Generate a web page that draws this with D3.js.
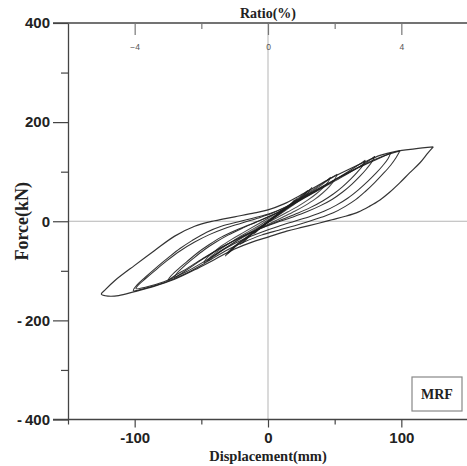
<!DOCTYPE html>
<html>
<head>
<meta charset="utf-8">
<script src="https://cdn.jsdelivr.net/npm/d3@7"></script>
<style>
  body { margin: 0; background: #fff; }
  .num { font-family: "Liberation Sans", Arial, sans-serif; font-weight: bold; font-size: 15px; fill: #222; }
  .ttl { font-family: "Liberation Serif", "Times New Roman", serif; font-weight: bold; fill: #222; }
</style>
</head>
<body>
<div class="canva"></div>
<script>
// hysteresis cycles, [displacement mm, force kN]
const cycle10a = [[12,26],[9,17],[3,5],[-4,-10],[-11,-26],[-7,-16],[0,-1],[7,14],[12,26]];
const cycle10b = [[10,23],[7,14],[1,1],[-6,-14],[-10,-24],[-5,-12],[2,3],[8,17],[10,23]];
const cycle20a = [[22,46],[19,37],[13,24],[5,8],[-4,-10],[-13,-28],[-21,-47],[-17,-36],[-9,-19],[0,-1],[9,18],[17,35],[22,46]];
const cycle20b = [[20,43],[17,34],[11,21],[3,5],[-6,-13],[-14,-31],[-19,-44],[-15,-33],[-7,-16],[2,2],[11,21],[17,34],[20,43]];
const cycle30a = [[33,68],[30,57],[25,45],[18,31],[10,16],[1,0],[-8,-17],[-17,-35],[-25,-52],[-32,-70],[-29,-59],[-23,-46],[-15,-30],[-6,-13],[3,5],[12,23],[21,41],[28,56],[33,68]];
const cycle30b = [[30,62],[27,52],[21,39],[14,25],[6,10],[-3,-7],[-12,-25],[-21,-43],[-30,-65],[-27,-55],[-20,-40],[-12,-24],[-3,-6],[6,12],[15,30],[23,47],[30,62]];
const cycle50a = [[52,95],[50,84],[46,70],[41,57],[35,44],[28,32],[20,20],[11,8],[1,-5],[-10,-19],[-21,-36],[-32,-54],[-41,-70],[-48,-84],
                  [-46,-75],[-41,-63],[-35,-50],[-27,-36],[-18,-22],[-9,-8],[0,6],[10,22],[20,39],[30,57],[40,75],[47,87],[52,95]];
const cycle50b = [[47,89],[45,79],[41,67],[36,55],[30,43],[23,31],[15,19],[6,6],[-4,-8],[-14,-23],[-24,-40],[-34,-58],[-41,-72],[-45,-80],
                  [-43,-72],[-38,-61],[-31,-48],[-23,-34],[-14,-20],[-5,-6],[4,9],[14,26],[24,44],[34,62],[42,77],[47,89]];
const cycle75a = [[80,131],[78,120],[74,106],[69,91],[63,75],[56,59],[48,44],[39,31],[29,19],[18,8],[6,-3],[-6,-15],[-19,-30],[-33,-50],[-47,-72],[-60,-94],[-70,-110],[-75,-119],
                  [-73,-111],[-68,-98],[-61,-82],[-53,-64],[-44,-47],[-35,-32],[-25,-19],[-14,-7],[-3,5],[8,18],[19,34],[30,51],[42,69],[54,87],[66,106],[75,121],[80,131]];
const cycle75b = [[73,123],[71,112],[67,99],[62,85],[56,70],[49,55],[41,41],[32,28],[22,16],[11,4],[0,-8],[-12,-22],[-25,-39],[-38,-58],[-51,-80],[-62,-100],[-70,-113],
                  [-68,-104],[-63,-91],[-56,-75],[-48,-58],[-39,-42],[-30,-28],[-20,-15],[-9,-2],[2,11],[13,26],[24,43],[36,61],[48,80],[60,100],[68,114],[73,123]];
const cycle100a = [[99,142],[96,128],[92,113],[86,95],[80,78],[73,60],[66,44],[58,30],[49,17],[40,8],[31,0],[20,-9],[8,-18],[-5,-28],[-18,-42],[-32,-60],[-47,-84],[-62,-106],[-78,-124],[-92,-135],[-101,-140],
                   [-98,-128],[-92,-113],[-84,-94],[-75,-74],[-66,-55],[-57,-39],[-46,-22],[-35,-10],[-22,-1],[-10,7],[2,16],[14,30],[26,48],[38,66],[50,84],[62,101],[74,117],[86,131],[99,142]];
const cycle100b = [[92,138],[90,126],[86,112],[81,97],[75,81],[68,64],[60,47],[51,32],[42,20],[32,10],[20,0],[8,-10],[-5,-22],[-18,-36],[-32,-55],[-47,-80],[-62,-103],[-78,-122],[-92,-133],[-99,-136],
                   [-97,-128],[-92,-116],[-85,-100],[-76,-80],[-66,-60],[-55,-42],[-44,-27],[-32,-14],[-20,-4],[-8,6],[4,17],[16,32],[28,50],[40,68],[52,86],[64,103],[76,118],[86,130],[92,138]];
const cycle125 = [[124,150],[120,138],[114,118],[106,97],[99,78],[91,58],[84,43],[76,30],[68,19],[58,10],[48,3],[38,-4],[26,-12],[14,-20],[0,-32],[-12,-42],[-25,-56],[-40,-77],[-55,-98],[-70,-117],[-85,-131],[-100,-142],[-112,-150],[-120,-151],[-125,-147],
                  [-122,-138],[-115,-120],[-100,-89],[-85,-59],[-70,-30],[-55,-10],[-40,1],[-25,9],[-10,17],[0,23],[12,35],[24,52],[36,70],[48,88],[60,104],[72,119],[84,133],[96,141],[110,146],[124,150]];

const cycles = [cycle10a, cycle10b, cycle20a, cycle20b, cycle30a, cycle30b, cycle50a, cycle50b,
                cycle75a, cycle75b, cycle100a, cycle100b, cycle125];

const forceTicks = [-400, -200, 0, 200, 400];
const forceMinor = [-300, -100, 100, 300];
const dispTicks = [-100, 0, 100];
const dispMinor = [-150, -50, 50, 150];
const ratioTicks = [-4, 0, 4];
const ratioMinor = [-2, 2];

const W = 467, H = 466;
const svg = d3.select(".canva").append("svg")
  .attr("width", W)
  .attr("height", H);

const x = d3.scaleLinear().domain([-150, 150]).range([68, 468]);
const y = d3.scaleLinear().domain([-400, 400]).range([419.5, 23]);
const xr = d3.scaleLinear().domain([-6, 6]).range([68, 468]);

// zero lines
svg.append("line").attr("x1", x(-150)).attr("x2", W).attr("y1", y(0)).attr("y2", y(0))
  .attr("stroke", "#b5b5b5").attr("stroke-width", 1);
svg.append("line").attr("x1", x(0)).attr("x2", x(0)).attr("y1", y(400)).attr("y2", y(-400))
  .attr("stroke", "#b5b5b5").attr("stroke-width", 1);

// loops
const line = d3.line()
  .x(d => x(d[0]))
  .y(d => y(d[1]))
  .curve(d3.curveCatmullRom.alpha(0.5));

svg.append("g").selectAll("path")
  .data(cycles)
  .enter().append("path")
  .attr("d", line)
  .attr("fill", "none")
  .attr("stroke", "#1e1e1e")
  .attr("stroke-opacity", (d, i) => i < 8 ? 0.8 : 0.9)
  .attr("stroke-width", (d, i) => i === cycles.length - 1 ? 1.2 : 1.05);

// axes
function styleAxis(g) {
  g.select(".domain").attr("stroke", "#444").attr("stroke-width", 1.3);
  g.selectAll(".tick line").attr("stroke", "#444").attr("stroke-width", 1.2);
}

// left
const yAxis = svg.append("g").attr("transform", "translate(68,0)")
  .call(d3.axisLeft(y).tickValues(forceTicks).tickSize(15).tickPadding(3).tickSizeOuter(0)
    .tickFormat(d => d < 0 ? "-\u2009" + Math.abs(d) : d));
styleAxis(yAxis);
yAxis.selectAll("text").attr("class", "num").attr("font-size", null).attr("font-family", null);
svg.append("g").attr("transform", "translate(68,0)")
  .call(d3.axisLeft(y).tickValues(forceMinor).tickSize(7).tickFormat(""))
  .call(g => g.select(".domain").remove())
  .call(styleAxis);

// bottom
const xAxis = svg.append("g").attr("transform", `translate(0,${y(-400)})`)
  .call(d3.axisBottom(x).tickValues(dispTicks).tickSize(8).tickPadding(5).tickSizeOuter(0)
    .tickFormat(d => d < 0 ? "-" + Math.abs(d) : d));
styleAxis(xAxis);
xAxis.select(".domain").attr("d", `M53,0H${W}`);
xAxis.selectAll("text").attr("class", "num").attr("font-size", null).attr("font-family", null);
svg.append("g").attr("transform", `translate(0,${y(-400)})`)
  .call(d3.axisBottom(x).tickValues(dispMinor).tickSize(5).tickFormat(""))
  .call(g => g.select(".domain").remove())
  .call(styleAxis);

// top, ratio
const rAxis = svg.append("g").attr("transform", `translate(0,${y(400)})`)
  .call(d3.axisBottom(xr).tickValues(ratioTicks).tickSize(12).tickPadding(9).tickSizeOuter(0));
styleAxis(rAxis);
rAxis.select(".domain").attr("d", `M53,0H${W}`);
rAxis.selectAll(".tick line").attr("stroke", "#777");
rAxis.selectAll("text").attr("font-size", 8.5).attr("fill", "#555")
  .attr("font-family", "Liberation Sans, Arial, sans-serif");
svg.append("g").attr("transform", `translate(0,${y(400)})`)
  .call(d3.axisBottom(xr).tickValues(ratioMinor).tickSize(6).tickFormat(""))
  .call(g => g.select(".domain").remove())
  .call(styleAxis)
  .call(g => g.selectAll(".tick line").attr("stroke", "#777"));

// titles
svg.append("text").attr("class", "ttl").attr("font-size", 14)
  .attr("x", x(0)).attr("y", 18).attr("text-anchor", "middle").text("Ratio(%)");
svg.append("text").attr("class", "ttl").attr("font-size", 14.5)
  .attr("x", x(0)).attr("y", 461).attr("text-anchor", "middle").text("Displacement(mm)");
svg.append("text").attr("class", "ttl").attr("font-size", 18)
  .attr("transform", `translate(28,${y(0)}) rotate(-90)`)
  .attr("text-anchor", "middle").text("Force(kN)");

// legend box
svg.append("rect").attr("x", 412).attr("y", 377).attr("width", 50).attr("height", 34)
  .attr("fill", "#fff").attr("stroke", "#888").attr("stroke-width", 1.2);
svg.append("text").attr("class", "ttl").attr("font-size", 14)
  .attr("x", 437).attr("y", 399).attr("text-anchor", "middle").text("MRF");
</script>
</body>
</html>
